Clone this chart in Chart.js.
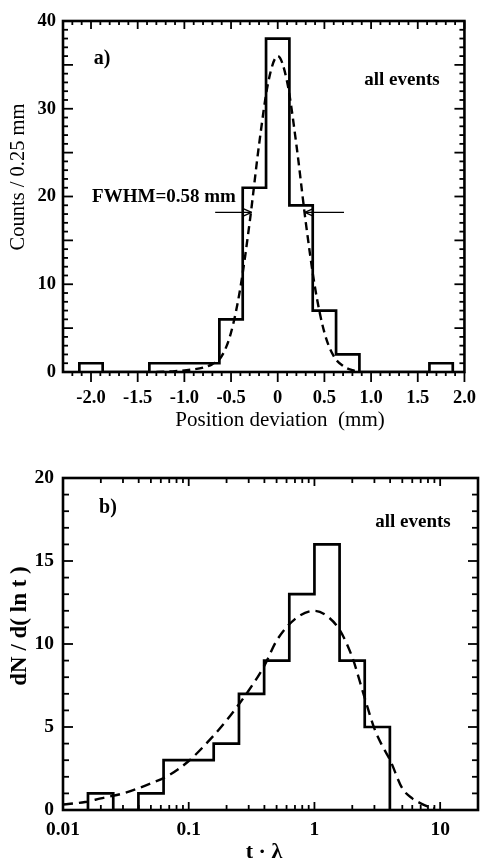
<!DOCTYPE html>
<html>
<head>
<meta charset="utf-8">
<script src="https://cdn.jsdelivr.net/npm/chart.js@4.4.1/dist/chart.umd.min.js"></script>
<style>
  html, body { margin: 0; padding: 0; background: #fff; }
  .panel { position: absolute; left: 0; }
</style>
</head>
<body>
<canvas id="posChart" class="panel" style="top:0" width="491" height="440"></canvas>
<canvas id="lifeChart" class="panel" style="top:440px" width="491" height="425"></canvas>
<script>
// a) position deviation, 0.25 mm bins (bin centres)
const posBins = [-2.0, -1.75, -1.5, -1.25, -1.0, -0.75, -0.5, -0.25, 0, 0.25, 0.5, 0.75, 1.0, 1.25, 1.5, 1.75];
const posCounts = [1, 0, 0, 1, 1, 1, 6, 21, 38, 19, 7, 2, 0, 0, 0, 1];
const posBinWidth = 0.25;
// dashed gaussian fit
const posFitX = [-1.3, -1.1, -0.9, -0.8, -0.7, -0.6, -0.5, -0.4, -0.3, -0.2, -0.1, 0, 0.1, 0.2, 0.3, 0.4, 0.5, 0.6, 0.7, 0.8, 0.88];
const posFitY = [0, 0.1, 0.3, 0.5, 0.9, 1.8, 4.5, 9.6, 17.1, 25.9, 33.1, 36, 33.1, 25.9, 17.1, 9.6, 4.5, 1.8, 0.7, 0.2, 0];
const posTicks = [-2.0, -1.5, -1.0, -0.5, 0, 0.5, 1.0, 1.5, 2.0];
const posTickLabels = ['-2.0', '-1.5', '-1.0', '-0.5', '0', '0.5', '1.0', '1.5', '2.0'];
const countTicks = [0, 10, 20, 30, 40];
// FWHM arrows (tail -> tip) at half maximum
const fwhmArrows = [{ from: -0.67, to: -0.28, y: 18.2 }, { from: 0.71, to: 0.29, y: 18.2 }];

// b) decay time distribution, log bins (edges in t*lambda)
const tEdges = [0.0158, 0.0251, 0.0398, 0.0631, 0.1, 0.158, 0.251, 0.398, 0.631, 1.0, 1.585, 2.512, 3.981];
const tCounts = [1, 0, 1, 3, 3, 4, 7, 9, 13, 16, 9, 5];
const tFitX = [0.01, 0.015, 0.02, 0.03, 0.05, 0.07, 0.1, 0.15, 0.2, 0.3, 0.4, 0.5, 0.7, 1.0, 1.3, 1.6, 2.0, 2.5, 3.0, 3.5, 4.0, 5.0, 6.0, 7.0, 8.0, 9.0];
const tFitY = [0.33, 0.48, 0.7, 1.0, 1.6, 2.1, 2.95, 4.3, 5.4, 7.2, 8.7, 10.2, 11.5, 12.0, 11.6, 10.8, 9.2, 6.8, 4.9, 3.8, 3.0, 1.3, 0.7, 0.4, 0.2, 0.1];
const tTicks = [0.01, 0.1, 1, 10];
const tTickLabels = ['0.01', '0.1', '1', '10'];
const dnTicks = [0, 5, 10, 15, 20];

const ink = '#000';
const serif = '"Liberation Serif", "Times New Roman", serif';

function stepLine(lefts, lastRight, counts) {
  const pts = [{ x: lefts[0], y: 0 }];
  lefts.forEach((x, i) => pts.push({ x, y: counts[i] }));
  pts.push({ x: lastRight, y: 0 });
  return pts;
}

function range(a, b, step) {
  const out = [];
  for (let k = Math.round(a / step); k <= Math.round(b / step); k++) out.push(+(k * step).toFixed(4));
  return out;
}

// frame, inward/outward tick marks, annotations
const decor = {
  id: 'decor',
  afterDatasetsDraw(chart, args, o) {
    const { ctx, chartArea: a } = chart;
    const xs = chart.scales.x, ys = chart.scales.y;
    const seg = (x1, y1, x2, y2) => { ctx.beginPath(); ctx.moveTo(x1, y1); ctx.lineTo(x2, y2); ctx.stroke(); };
    ctx.save();
    ctx.strokeStyle = ink;
    ctx.lineWidth = 1.8;
    const xMark = (v, lenTop, lenBot) => {
      const p = xs.getPixelForValue(v);
      seg(p, a.top, p, a.top + lenTop);
      seg(p, a.bottom, p, a.bottom + (o.xBotOut ? lenBot : -lenBot));
    };
    o.xMajor.forEach(v => xMark(v, o.xTopLen[0], o.xBotLen[0]));
    o.xMinor.forEach(v => xMark(v, o.xTopLen[1], o.xBotLen[1]));
    const yMark = (v, len) => {
      const p = ys.getPixelForValue(v);
      seg(a.left, p, a.left + len, p);
      seg(a.right, p, a.right - len, p);
    };
    o.yMajor.forEach(v => yMark(v, o.yLen[0]));
    o.yMinor.forEach(v => yMark(v, o.yLen[1]));

    ctx.lineWidth = 2.6;
    ctx.strokeRect(a.left, a.top, a.width, a.height);

    ctx.lineWidth = 1.3;
    (o.arrows || []).forEach(ar => {
      const x1 = xs.getPixelForValue(ar.from), x2 = xs.getPixelForValue(ar.to), y = ys.getPixelForValue(ar.y);
      const dir = Math.sign(x2 - x1);
      seg(x1, y, x2, y);
      seg(x2, y, x2 - dir * 9, y - 4);
      seg(x2, y, x2 - dir * 9, y + 4);
    });

    ctx.fillStyle = ink;
    ctx.textAlign = 'center';
    ctx.textBaseline = 'middle';
    o.texts.forEach(t => {
      ctx.save();
      ctx.font = t.font;
      ctx.translate(t.x, t.y);
      if (t.rot) ctx.rotate(-Math.PI / 2);
      ctx.fillText(t.text, 0, 0);
      ctx.restore();
    });
    ctx.restore();
  }
};

function axis(extra) {
  return Object.assign({
    grid: { display: false, drawTicks: false },
    border: { display: false },
  }, extra);
}

// --- a) ---
const posLefts = posBins.map(c => c - posBinWidth / 2);
const posLastRight = posBins[posBins.length - 1] + posBinWidth / 2;
const tickFontA = { family: serif, size: 18.5, weight: 'bold' };

new Chart(document.getElementById('posChart'), {
  type: 'line',
  data: {
    datasets: [
      { data: stepLine(posLefts, posLastRight, posCounts), stepped: true, borderColor: ink, borderWidth: 2.7, pointRadius: 0, fill: false },
      { data: posFitX.map((x, i) => ({ x, y: posFitY[i] })), borderColor: ink, borderWidth: 2.4, borderDash: [8, 5], pointRadius: 0, fill: false, cubicInterpolationMode: 'monotone' }
    ]
  },
  options: {
    responsive: false, animation: false, events: [],
    layout: { padding: { top: 21, right: 13, left: 0, bottom: 0 } },
    plugins: {
      legend: { display: false }, tooltip: { enabled: false },
      decor: {
        xMajor: range(-2, 2, 0.5),
        xMinor: range(-2.2, 1.9, 0.1).filter(v => Math.abs(v * 2 - Math.round(v * 2)) > 1e-6),
        xTopLen: [8, 4], xBotLen: [10, 4], xBotOut: true,
        yMajor: range(0, 40, 5),
        yMinor: range(0, 40, 1).filter(v => v % 5 !== 0),
        yLen: [10, 5],
        arrows: fwhmArrows,
        texts: [
          { text: 'a)', x: 102, y: 59, font: 'bold 20px ' + serif },
          { text: 'all events', x: 402, y: 80, font: 'bold 19px ' + serif },
          { text: 'FWHM=0.58 mm', x: 164, y: 197, font: 'bold 19px ' + serif },
          { text: 'Position deviation  (mm)', x: 280, y: 420, font: '21px ' + serif },
          { text: 'Counts / 0.25 mm', x: 19, y: 177, rot: true, font: '20.5px ' + serif }
        ]
      }
    },
    scales: {
      x: axis({
        type: 'linear', min: -2.3, max: 2.0,
        ticks: { color: ink, font: tickFontA, padding: 15, maxRotation: 0, autoSkip: false, callback: (v, i) => posTickLabels[i] },
        afterBuildTicks: s => { s.ticks = posTicks.map(value => ({ value })); },
        afterFit: s => { s.height = 440 - 372; }
      }),
      y: axis({
        type: 'linear', min: 0, max: 40,
        ticks: { color: ink, font: tickFontA, padding: 7, autoSkip: false },
        afterBuildTicks: s => { s.ticks = countTicks.map(value => ({ value })); },
        afterFit: s => { s.width = 63; }
      })
    }
  },
  plugins: [decor]
});

// --- b) ---
const tickFontB = { family: serif, size: 19.5, weight: 'bold' };
const logMinor = [];
[0.01, 0.1, 1, 10].forEach(d => { for (let m = 2; m <= 9; m++) if (d * m <= 20) logMinor.push(d * m); });

new Chart(document.getElementById('lifeChart'), {
  type: 'line',
  data: {
    datasets: [
      { data: stepLine(tEdges.slice(0, -1), tEdges[tEdges.length - 1], tCounts), stepped: true, borderColor: ink, borderWidth: 2.7, pointRadius: 0, fill: false },
      { data: tFitX.map((x, i) => ({ x, y: tFitY[i] })), borderColor: ink, borderWidth: 2.4, borderDash: [10, 6], pointRadius: 0, fill: false, cubicInterpolationMode: 'monotone' }
    ]
  },
  options: {
    responsive: false, animation: false, events: [],
    layout: { padding: { top: 38, right: 13, left: 0, bottom: 0 } },
    plugins: {
      legend: { display: false }, tooltip: { enabled: false },
      decor: {
        xMajor: tTicks,
        xMinor: logMinor,
        xTopLen: [8, 5], xBotLen: [8, 5], xBotOut: false,
        yMajor: range(0, 20, 5),
        yMinor: range(0, 20, 1).filter(v => v % 5 !== 0),
        yLen: [10, 6],
        texts: [
          { text: 'b)', x: 108, y: 68, font: 'bold 20px ' + serif },
          { text: 'all events', x: 413, y: 82, font: 'bold 19px ' + serif },
          { text: 't · λ', x: 264, y: 412, font: 'bold 22px ' + serif },
          { text: 'dN / d( ln t )', x: 20, y: 186, rot: true, font: 'bold 23px ' + serif }
        ]
      }
    },
    scales: {
      x: axis({
        type: 'logarithmic', min: 0.01, max: 20,
        ticks: { color: ink, font: tickFontB, padding: 8, maxRotation: 0, autoSkip: false, callback: (v, i) => tTickLabels[i] },
        afterBuildTicks: s => { s.ticks = tTicks.map(value => ({ value })); },
        afterFit: s => { s.height = 425 - 370; }
      }),
      y: axis({
        type: 'linear', min: 0, max: 20,
        ticks: { color: ink, font: tickFontB, padding: 9, autoSkip: false },
        afterBuildTicks: s => { s.ticks = dnTicks.map(value => ({ value })); },
        afterFit: s => { s.width = 63; }
      })
    }
  },
  plugins: [decor]
});
</script>
</body>
</html>
